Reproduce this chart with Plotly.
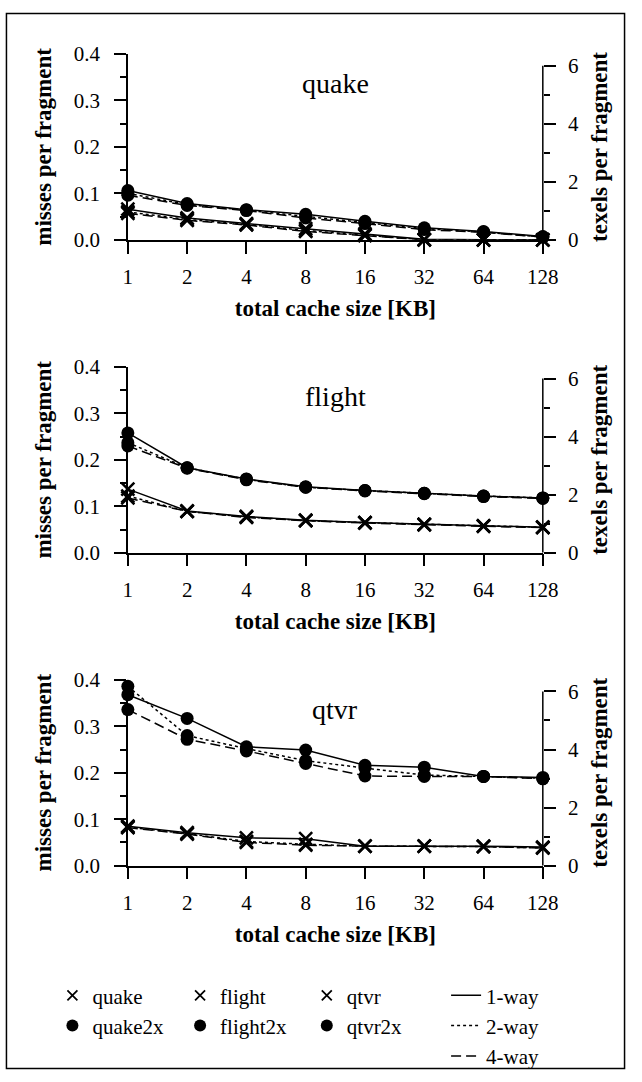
import plotly.graph_objects as go

# ---------------- data ----------------
sizes = [1, 2, 4, 8, 16, 32, 64, 128]
size_labels = ["1", "2", "4", "8", "16", "32", "64", "128"]

quake_1way = [0.066, 0.047, 0.035, 0.024, 0.013, 0.001, 0.000, 0.000]
quake_2way = [0.060, 0.044, 0.033, 0.020, 0.010, 0.000, 0.000, 0.000]
quake_4way = [0.057, 0.042, 0.032, 0.018, 0.009, 0.000, 0.000, 0.000]
quake2x_1way = [0.106, 0.078, 0.065, 0.055, 0.040, 0.026, 0.018, 0.007]
quake2x_2way = [0.100, 0.076, 0.064, 0.050, 0.037, 0.024, 0.017, 0.006]
quake2x_4way = [0.096, 0.074, 0.063, 0.047, 0.035, 0.022, 0.016, 0.006]

flight_1way = [0.137, 0.090, 0.078, 0.070, 0.065, 0.061, 0.058, 0.055]
flight_2way = [0.122, 0.089, 0.077, 0.069, 0.065, 0.061, 0.058, 0.055]
flight_4way = [0.118, 0.089, 0.076, 0.069, 0.064, 0.060, 0.057, 0.054]
flight2x_1way = [0.258, 0.183, 0.159, 0.142, 0.134, 0.128, 0.122, 0.118]
flight2x_2way = [0.237, 0.183, 0.158, 0.141, 0.134, 0.128, 0.122, 0.118]
flight2x_4way = [0.230, 0.182, 0.157, 0.141, 0.133, 0.127, 0.121, 0.117]

qtvr_1way = [0.085, 0.071, 0.060, 0.058, 0.042, 0.042, 0.042, 0.040]
qtvr_2way = [0.083, 0.069, 0.052, 0.046, 0.042, 0.042, 0.041, 0.038]
qtvr_4way = [0.082, 0.068, 0.050, 0.044, 0.042, 0.042, 0.041, 0.038]
qtvr2x_1way = [0.368, 0.317, 0.256, 0.249, 0.216, 0.212, 0.192, 0.190]
qtvr2x_2way = [0.386, 0.280, 0.252, 0.226, 0.210, 0.195, 0.192, 0.188]
qtvr2x_4way = [0.336, 0.272, 0.247, 0.220, 0.193, 0.192, 0.192, 0.187]

panel_titles = ["quake", "flight", "qtvr"]
way_names = ["1-way", "2-way", "4-way"]
left_ticks = [0.0, 0.1, 0.2, 0.3, 0.4]
right_ticks = [0, 2, 4, 6]

panels = [
    ("quake", [quake_1way, quake_2way, quake_4way], [quake2x_1way, quake2x_2way, quake2x_4way]),
    ("flight", [flight_1way, flight_2way, flight_4way], [flight2x_1way, flight2x_2way, flight2x_4way]),
    ("qtvr", [qtvr_1way, qtvr_2way, qtvr_4way], [qtvr2x_1way, qtvr2x_2way, qtvr2x_4way]),
]

# ---------------- styling ----------------
W, H = 642, 1082
FONT = "Liberation Serif"
BLACK = "black"
dashes = ["solid", "3px,3px", "10px,5px"]
x_dom = [127 / W, 556 / W]
rows_px = [(233, 43), (553, 363), (873, 683)]  # (bottom, top) in pixels

fig = go.Figure()
layout = dict(
    width=W, height=H,
    margin=dict(l=0, r=0, t=0, b=0),
    paper_bgcolor="white", plot_bgcolor="white",
    font=dict(family=FONT, color=BLACK, size=21),
    showlegend=True,
)

shapes = []
annotations = []

for i, (name, normal, doubled) in enumerate(panels):
    k = i + 1
    xa = "x" if k == 1 else f"x{k}"
    yl = "y" if k == 1 else f"y{2 * k - 1}"
    yr = f"y{2 * k}"
    xkey = "xaxis" if k == 1 else f"xaxis{k}"
    ylkey = "yaxis" if k == 1 else f"yaxis{2 * k - 1}"
    yrkey = f"yaxis{2 * k}"
    bot, top = rows_px[i]
    y_dom = [1 - bot / H, 1 - top / H]

    for series, sym, size, lw in ((normal, "x-thin-open", 13, 2.5), (doubled, "circle", 13, 0)):
        for w, vals in enumerate(series):
            fig.add_trace(go.Scatter(
                x=sizes, y=vals, xaxis=xa, yaxis=yl,
                mode="lines+markers", showlegend=False, cliponaxis=False,
                line=dict(color=BLACK, width=1.5, dash=dashes[w]),
                marker=dict(symbol=sym, size=size, color=BLACK,
                            line=dict(color=BLACK, width=lw)),
                hoverinfo="skip",
            ))
    # invisible trace on right axis so it is drawn
    fig.add_trace(go.Scatter(x=[None], y=[None], xaxis=xa, yaxis=yr,
                             showlegend=False, hoverinfo="skip"))

    layout[xkey] = dict(
        domain=x_dom, anchor=yl, type="log",
        range=[0, 2.10721], tickvals=sizes, ticktext=size_labels,
        ticks="outside", ticklen=12, tickwidth=1.5, tickcolor=BLACK,
        showline=True, linewidth=1.5, linecolor=BLACK,
        showgrid=False, zeroline=False, ticklabelstandoff=5,
        tickfont=dict(size=21),
        title=dict(text="total cache size [KB]", standoff=12,
                   font=dict(size=23, weight="bold")),
    )
    layout[ylkey] = dict(
        domain=y_dom, anchor=xa, range=[0, 0.4],
        tickvals=left_ticks, tickformat=".1f",
        ticks="outside", ticklen=12, tickwidth=1.5, tickcolor=BLACK,
        minor=dict(dtick=0.05, ticks="outside", ticklen=6, tickwidth=1.5, tickcolor=BLACK, showgrid=False),
        showline=True, linewidth=1.5, linecolor=BLACK,
        showgrid=False, zeroline=False, ticklabelstandoff=10,
        tickfont=dict(size=21),
        title=dict(text="misses per fragment", standoff=16,
                   font=dict(size=23, weight="bold")),
    )
    layout[yrkey] = dict(
        overlaying=yl, anchor=xa, side="right", range=[0, 6.4],
        tickvals=right_ticks,
        ticks="outside", ticklen=12, tickwidth=1.5, tickcolor=BLACK,
        minor=dict(dtick=1, ticks="outside", ticklen=6, tickwidth=1.5, tickcolor=BLACK, showgrid=False),
        showline=False, showgrid=False, zeroline=False, ticklabelstandoff=8,
        tickfont=dict(size=21),
        title=dict(text="texels per fragment", standoff=12,
                   font=dict(size=23, weight="bold")),
    )
    shapes.append(dict(type="line", xref=f"{xa} domain", x0=1, x1=1,
                       yref=yr, y0=0, y1=max(right_ticks),
                       line=dict(color=BLACK, width=1.5)))
    annotations.append(dict(text=name, xref=f"{xa} domain", yref=f"{yl} domain",
                            x=0.5, y=0.842, xanchor="center", yanchor="middle",
                            showarrow=False, font=dict(size=28)))

# ---------------- legends ----------------
legend_cols = [("legend", ["quake", "quake2x"]),
               ("legend2", ["flight", "flight2x"]),
               ("legend3", ["qtvr", "qtvr2x"])]
for lg, names in legend_cols:
    for nm in names:
        is2x = nm.endswith("2x")
        fig.add_trace(go.Scatter(
            x=[None], y=[None], name=nm, mode="markers", legend=lg,
            marker=dict(symbol="circle" if is2x else "x-thin-open",
                        size=12 if is2x else 10, color=BLACK,
                        line=dict(color=BLACK, width=0 if is2x else 1.8)),
        ))
for w, nm in enumerate(way_names):
    fig.add_trace(go.Scatter(
        x=[None], y=[None], name=nm, mode="lines", legend="legend4",
        line=dict(color=BLACK, width=1.5, dash=dashes[w]),
    ))

leg_common = dict(xanchor="left", yanchor="top", bgcolor="rgba(0,0,0,0)",
                  font=dict(size=21, family=FONT, color=BLACK),
                  tracegroupgap=0, itemclick=False, itemdoubleclick=False)
leg_top = 1 - 985 / H
layout["legend"] = dict(x=49 / W, y=leg_top, **leg_common)
layout["legend2"] = dict(x=181 / W, y=leg_top, **leg_common)
layout["legend3"] = dict(x=312 / W, y=leg_top, **leg_common)
layout["legend4"] = dict(x=456 / W, y=leg_top, itemwidth=30, **leg_common)

# frame
shapes.append(dict(type="rect", xref="paper", yref="paper",
                   x0=1.5 / W, x1=1 - 1.5 / W, y0=1.5 / H, y1=1 - 1.5 / H,
                   line=dict(color=BLACK, width=1.5)))

layout["shapes"] = shapes
layout["annotations"] = annotations
fig.update_layout(**layout)

fig.write_html("out.html", config={"displayModeBar": False},
               post_script="document.body.style.margin='0';")
